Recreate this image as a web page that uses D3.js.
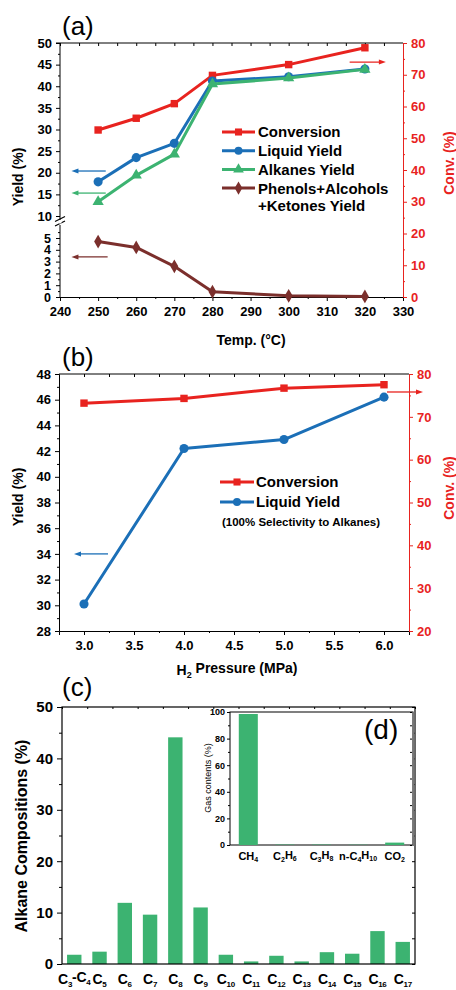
<!DOCTYPE html>
<html>
<head>
<meta charset="utf-8">
<script src="https://cdn.jsdelivr.net/npm/d3@7"></script>
<style>
  body { margin: 0; background: #fff; }
  svg { font-family: "Liberation Sans", Arial, sans-serif; }
  .tk text { font-weight: bold; }
</style>
</head>
<body>
<div id="chart"></div>
<script>
// ---- data ----
var tempX = [250, 260, 270, 280, 300, 320];
var convA = [52.6, 56.3, 60.9, 69.8, 73.2, 78.5];
var liquidA = [17.9, 23.5, 26.8, 41.2, 42.2, 44.0];
var alkanesA = [13.3, 19.4, 24.3, 40.5, 41.9, 43.9];
var phenolsA = [4.7, 4.2, 2.6, 0.45, 0.1, 0.05];

var pressX = [3.0, 4.0, 5.0, 6.0];
var convB = [73.2, 74.3, 76.7, 77.5];
var liquidB = [30.1, 42.2, 42.9, 46.2];

var alkaneCats = ["C_{3}-C_{4}", "C_{5}", "C_{6}", "C_{7}", "C_{8}", "C_{9}", "C_{10}",
                  "C_{11}", "C_{12}", "C_{13}", "C_{14}", "C_{15}", "C_{16}", "C_{17}"];
var alkaneVals = [1.8, 2.4, 11.9, 9.6, 44.1, 11.0, 1.8, 0.5, 1.6, 0.5, 2.3, 2.0, 6.4, 4.3];

var gasCats = ["CH_{4}", "C_{2}H_{6}", "C_{3}H_{8}", "n-C_{4}H_{10}", "CO_{2}"];
var gasVals = [98.5, 0.3, 0.3, 0.2, 1.8];

var legendA = ["Conversion", "Liquid Yield", "Alkanes Yield", "Phenols+Alcohols"];
var legendB = ["Conversion", "Liquid Yield"];

var RED = "#e8231f", BLUE = "#1b6fb7", GREEN = "#3cb371", BROWN = "#7b2f2c";

var svg = d3.select("#chart").append("svg")
    .attr("width", 456)
    .attr("height", 990);

// text with _{sub} parts
function richText(sel, str, subSize) {
    var parts = str.split(/(_\{[^}]*\})/).filter(function(p) { return p.length; });
    var wasSub = false;
    parts.forEach(function(p) {
        if (p[0] == "_") {
            sel.append("tspan").attr("dy", "0.35em").style("font-size", subSize + "px").text(p.slice(2, -1));
            wasSub = true;
        } else {
            var t = sel.append("tspan").text(p);
            if (wasSub) t.attr("dy", "-0.35em");
            wasSub = false;
        }
    });
}

function arrow(g, x1, x2, y, color) {
    var dir = x2 > x1 ? 1 : -1;
    g.append("line").attr("x1", x1).attr("x2", x2 - dir * 4).attr("y1", y).attr("y2", y)
        .attr("stroke", color).attr("stroke-width", 1.3);
    g.append("path")
        .attr("d", "M" + x2 + "," + y + "L" + (x2 - dir * 7) + "," + (y - 2.5) + "L" + (x2 - dir * 7) + "," + (y + 2.5) + "Z")
        .attr("fill", color);
}

function styleAxis(g, color, size) {
    g.attr("class", "tk");
    g.selectAll("path, line").attr("stroke", color);
    g.selectAll("text").attr("fill", color).style("font-size", size + "px");
}

// ======================= panel (a) =======================
var xA = d3.scaleLinear().domain([240, 330]).range([60, 403]);
var yUp = d3.scaleLinear().domain([10, 50]).range([216, 43]);
var yLow = d3.scaleLinear().domain([0, 5]).range([297, 238]);
var yConvA = d3.scaleLinear().domain([0, 80]).range([297, 43]);

var ga = svg.append("g");

// top frame line
ga.append("line").attr("x1", 60).attr("x2", 403).attr("y1", 43).attr("y2", 43).attr("stroke", "#000");
ga.append("g").attr("transform", "translate(0,43)")
    .call(d3.axisBottom(xA).tickValues(d3.range(240, 331, 5)).tickSize(3).tickFormat(""))
    .select(".domain").remove();

// bottom axis
var axA = ga.append("g").attr("transform", "translate(0,297)")
    .call(d3.axisBottom(xA).tickValues(d3.range(240, 331, 10)).tickSize(4).tickPadding(6));
styleAxis(axA, "#000", 13);
ga.append("g").attr("transform", "translate(0,297)")
    .call(d3.axisBottom(xA).tickValues(d3.range(245, 331, 10)).tickSize(2).tickFormat(""))
    .select(".domain").remove();

// left axis, upper segment
var ayU = ga.append("g").attr("transform", "translate(60,0)")
    .call(d3.axisLeft(yUp).tickValues(d3.range(10, 51, 5)).tickSize(4).tickPadding(4));
styleAxis(ayU, "#000", 13);
ayU.select(".domain").attr("d", "M-4,43H0V220");
ga.append("g").attr("transform", "translate(60,0)")
    .call(d3.axisLeft(yUp).tickValues(d3.range(12.5, 50, 5)).tickSize(2).tickFormat(""))
    .select(".domain").remove();

// left axis, lower segment
var ayL = ga.append("g").attr("transform", "translate(60,0)")
    .call(d3.axisLeft(yLow).tickValues(d3.range(0, 6, 1)).tickSize(4).tickPadding(5).tickFormat(d3.format("d")));
styleAxis(ayL, "#000", 12.5);
ayL.select(".domain").attr("d", "M0,225V297");
ga.append("g").attr("transform", "translate(60,0)")
    .call(d3.axisLeft(yLow).tickValues(d3.range(0.5, 6, 1)).tickSize(2).tickFormat(""))
    .select(".domain").remove();

// break marks
[219.5, 224].forEach(function(y) {
    ga.append("line").attr("x1", 55).attr("x2", 65).attr("y1", y + 2).attr("y2", y - 3)
        .attr("stroke", "#000").attr("stroke-width", 1.2);
});
ga.append("rect").attr("x", 59).attr("y", 221).attr("width", 2.5).attr("height", 2.5).attr("fill", "#fff");

// right axis
var ayR = ga.append("g").attr("transform", "translate(403,0)")
    .call(d3.axisRight(yConvA).tickValues(d3.range(0, 81, 10)).tickSize(4).tickPadding(4));
styleAxis(ayR, RED, 13);
ga.append("g").attr("transform", "translate(403,0)")
    .call(d3.axisRight(yConvA).tickValues(d3.range(5, 80, 10)).tickSize(2).tickFormat(""))
    .call(function(g) { g.select(".domain").remove(); g.selectAll("line").attr("stroke", RED); });

// series
function drawSeries(g, xs, ys, xScale, yScale, color, sym, size) {
    var pts = xs.map(function(x, i) { return [xScale(x), yScale(ys[i])]; });
    g.append("path").attr("d", d3.line()(pts)).attr("fill", "none")
        .attr("stroke", color).attr("stroke-width", 3).attr("stroke-linejoin", "round");
    g.selectAll(null).data(pts).enter().append("path")
        .attr("transform", function(d) { return "translate(" + d[0] + "," + d[1] + ")"; })
        .attr("d", d3.symbol().type(sym).size(size))
        .attr("fill", color);
}

drawSeries(ga, tempX, phenolsA, xA, yLow, BROWN, d3.symbolDiamond, 55);
drawSeries(ga, tempX, convA, xA, yConvA, RED, d3.symbolSquare, 55);
drawSeries(ga, tempX, liquidA, xA, yUp, BLUE, d3.symbolCircle, 65);
drawSeries(ga, tempX, alkanesA, xA, yUp, GREEN, d3.symbolTriangle, 55);

// arrows
arrow(ga, xA(316), xA(325.5), yConvA(74), RED);
arrow(ga, xA(252), xA(243), yUp(20.4), BLUE);
arrow(ga, xA(252), xA(243), yUp(15.3), GREEN);
arrow(ga, xA(252.5), xA(243), yLow(3.4), BROWN);

// legend
var legColA = [RED, BLUE, GREEN, BROWN];
var legSymA = [d3.symbolSquare, d3.symbolCircle, d3.symbolTriangle, d3.symbolDiamond];
legendA.forEach(function(name, i) {
    var y = 132 + i * 18.7;
    ga.append("line").attr("x1", 222).attr("x2", 255).attr("y1", y).attr("y2", y)
        .attr("stroke", legColA[i]).attr("stroke-width", 3);
    ga.append("path").attr("transform", "translate(238.5," + y + ")")
        .attr("d", d3.symbol().type(legSymA[i]).size(50)).attr("fill", legColA[i]);
    ga.append("text").attr("x", 258).attr("y", y).attr("dy", "0.36em")
        .style("font-size", "15px").style("font-weight", "bold").text(name);
});
ga.append("text").attr("x", 258).attr("y", 206).attr("dy", "0.36em")
    .style("font-size", "15px").style("font-weight", "bold").text("+Ketones Yield");

ga.append("text").attr("x", 62).attr("y", 35).style("font-size", "26px").text("(a)");
ga.append("text").attr("transform", "translate(23,177) rotate(-90)")
    .style("text-anchor", "middle").style("font-size", "14px").style("font-weight", "bold").text("Yield (%)");
ga.append("text").attr("transform", "translate(454,163) rotate(-90)")
    .style("text-anchor", "middle").style("font-size", "14px").style("font-weight", "bold")
    .attr("fill", RED).text("Conv. (%)");
ga.append("text").attr("x", 251).attr("y", 345)
    .style("text-anchor", "middle").style("font-size", "14px").style("font-weight", "bold").text("Temp. (\u00B0C)");

// ======================= panel (b) =======================
var xB = d3.scaleLinear().domain([2.75, 6.25]).range([59, 409]);
var yB = d3.scaleLinear().domain([28, 48]).range([631, 374]);
var yConvB = d3.scaleLinear().domain([20, 80]).range([631, 374]);

var gb = svg.append("g");
gb.append("line").attr("x1", 59).attr("x2", 409).attr("y1", 374).attr("y2", 374).attr("stroke", "#000");
gb.append("g").attr("transform", "translate(0,374)")
    .call(d3.axisBottom(xB).tickValues(d3.range(3, 6.01, 0.25)).tickSize(3).tickFormat(""))
    .select(".domain").remove();

var axB = gb.append("g").attr("transform", "translate(0,631)")
    .call(d3.axisBottom(xB).tickValues(d3.range(3, 6.01, 0.5)).tickSize(4).tickPadding(6).tickFormat(d3.format(".1f")));
styleAxis(axB, "#000", 13);
gb.append("g").attr("transform", "translate(0,631)")
    .call(d3.axisBottom(xB).tickValues(d3.range(3.25, 6.01, 0.5)).tickSize(2).tickFormat(""))
    .select(".domain").remove();

var ayB = gb.append("g").attr("transform", "translate(59,0)")
    .call(d3.axisLeft(yB).tickValues(d3.range(28, 49, 2)).tickSize(4).tickPadding(4));
styleAxis(ayB, "#000", 13);
gb.append("g").attr("transform", "translate(59,0)")
    .call(d3.axisLeft(yB).tickValues(d3.range(29, 48, 2)).tickSize(2).tickFormat(""))
    .select(".domain").remove();

var ayRB = gb.append("g").attr("transform", "translate(409,0)")
    .call(d3.axisRight(yConvB).tickValues(d3.range(20, 81, 10)).tickSize(4).tickPadding(4));
styleAxis(ayRB, RED, 13);
gb.append("g").attr("transform", "translate(409,0)")
    .call(d3.axisRight(yConvB).tickValues(d3.range(25, 80, 10)).tickSize(2).tickFormat(""))
    .call(function(g) { g.select(".domain").remove(); g.selectAll("line").attr("stroke", RED); });

drawSeries(gb, pressX, convB, xB, yConvB, RED, d3.symbolSquare, 55);
drawSeries(gb, pressX, liquidB, xB, yB, BLUE, d3.symbolCircle, 65);

arrow(gb, xB(6.03), xB(6.39), yConvB(75.8), RED);
arrow(gb, xB(3.24), xB(2.9), yB(34), BLUE);

var legColB = [RED, BLUE];
var legSymB = [d3.symbolSquare, d3.symbolCircle];
legendB.forEach(function(name, i) {
    var y = 482 + i * 20;
    gb.append("line").attr("x1", 220).attr("x2", 254).attr("y1", y).attr("y2", y)
        .attr("stroke", legColB[i]).attr("stroke-width", 3);
    gb.append("path").attr("transform", "translate(237," + y + ")")
        .attr("d", d3.symbol().type(legSymB[i]).size(50)).attr("fill", legColB[i]);
    gb.append("text").attr("x", 256).attr("y", y).attr("dy", "0.36em")
        .style("font-size", "15px").style("font-weight", "bold").text(name);
});
gb.append("text").attr("x", 222).attr("y", 522).attr("dy", "0.36em")
    .style("font-size", "11.5px").style("font-weight", "bold").text("(100% Selectivity to Alkanes)");

gb.append("text").attr("x", 62).attr("y", 366).style("font-size", "26px").text("(b)");
gb.append("text").attr("transform", "translate(23,497) rotate(-90)")
    .style("text-anchor", "middle").style("font-size", "14px").style("font-weight", "bold").text("Yield (%)");
gb.append("text").attr("transform", "translate(454,488) rotate(-90)")
    .style("text-anchor", "middle").style("font-size", "14px").style("font-weight", "bold")
    .attr("fill", RED).text("Conv. (%)");
var xlabB = gb.append("text").attr("x", 237).attr("y", 675)
    .style("text-anchor", "middle").style("font-size", "14px").style("font-weight", "bold");
richText(xlabB, "H_{2} Pressure (MPa)", 9);

// ======================= panel (c) =======================
var xC = d3.scaleBand().domain(alkaneCats).range([62, 415]).paddingInner(0.43).paddingOuter(0.2);
var yC = d3.scaleLinear().domain([0, 50]).range([964, 707]);

var gc = svg.append("g");
gc.selectAll(".bar").data(alkaneVals).enter().append("rect")
    .attr("x", function(d, i) { return xC(alkaneCats[i]); })
    .attr("width", xC.bandwidth())
    .attr("y", function(d) { return yC(d); })
    .attr("height", function(d) { return yC(0) - yC(d); })
    .attr("fill", GREEN);

gc.append("rect").attr("x", 62).attr("y", 707).attr("width", 353).attr("height", 257)
    .attr("fill", "none").attr("stroke", "#000").attr("stroke-width", 1.2);

var ayC = gc.append("g").attr("transform", "translate(62,0)")
    .call(d3.axisLeft(yC).tickValues(d3.range(0, 51, 10)).tickSize(5).tickPadding(4));
styleAxis(ayC, "#000", 15);
ayC.select(".domain").remove();
gc.append("g").attr("transform", "translate(62,0)")
    .call(d3.axisLeft(yC).tickValues(d3.range(5, 50, 10)).tickSize(3).tickFormat(""))
    .select(".domain").remove();
gc.append("g").attr("transform", "translate(415,0)")
    .call(d3.axisLeft(yC).tickValues(d3.range(0, 51, 5)).tickSize(3).tickFormat(""))
    .select(".domain").remove();
gc.append("g").attr("transform", "translate(0,707)")
    .call(d3.axisBottom(d3.scaleLinear().domain([0, 14]).range([62, 415])).tickValues(d3.range(0, 14.1, 1)).tickSize(2).tickFormat(""))
    .select(".domain").remove();

gc.selectAll(".xl").data(alkaneCats).enter().append("text")
    .attr("x", function(d) { return xC(d) + xC.bandwidth() / 2; })
    .attr("y", 984)
    .style("text-anchor", "middle").style("font-size", "14px").style("font-weight", "bold")
    .style("letter-spacing", "-0.3px")
    .each(function(d) { richText(d3.select(this), d, 8); });

gc.append("text").attr("x", 62).attr("y", 696).style("font-size", "26px").text("(c)");
gc.append("text").attr("transform", "translate(27,836) rotate(-90)")
    .style("text-anchor", "middle").style("font-size", "16px").style("font-weight", "bold").text("Alkane Compositions (%)");

// ======================= inset (d) =======================
var xD = d3.scaleBand().domain(gasCats).range([230, 413]).paddingInner(0.48).paddingOuter(0.24);
var yD = d3.scaleLinear().domain([0, 100]).range([845, 712]);

var gd = svg.append("g");
gd.append("rect").attr("x", 230).attr("y", 712).attr("width", 183).attr("height", 133)
    .attr("fill", "#fff").attr("stroke", "#000").attr("stroke-width", 1);
gd.append("line").attr("x1", 413.5).attr("x2", 413.5).attr("y1", 712).attr("y2", 846)
    .attr("stroke", "#777").attr("stroke-width", 2);

gd.selectAll(".bar").data(gasVals).enter().append("rect")
    .attr("x", function(d, i) { return xD(gasCats[i]); })
    .attr("width", xD.bandwidth())
    .attr("y", function(d) { return yD(d); })
    .attr("height", function(d) { return yD(0) - yD(d); })
    .attr("fill", GREEN);

var ayD = gd.append("g").attr("transform", "translate(230,0)")
    .call(d3.axisLeft(yD).tickValues(d3.range(0, 101, 20)).tickSize(3).tickPadding(2));
styleAxis(ayD, "#000", 9);
ayD.select(".domain").remove();
gd.append("g").attr("transform", "translate(230,0)")
    .call(d3.axisLeft(yD).tickValues(d3.range(10, 100, 20)).tickSize(2).tickFormat(""))
    .select(".domain").remove();
gd.append("g").attr("transform", "translate(412,0)")
    .call(d3.axisLeft(yD).tickValues(d3.range(0, 101, 10)).tickSize(2).tickFormat(""))
    .select(".domain").remove();

gd.selectAll(".xl").data(gasCats).enter().append("text")
    .attr("x", function(d) { return xD(d) + xD.bandwidth() / 2; })
    .attr("y", 860)
    .style("text-anchor", "middle").style("font-size", "11px").style("font-weight", "bold")
    .each(function(d) { richText(d3.select(this), d, 7); });

gd.append("text").attr("transform", "translate(211,778) rotate(-90)")
    .style("text-anchor", "middle").style("font-size", "9px").text("Gas contents (%)");
gd.append("text").attr("x", 364).attr("y", 739).style("font-size", "28px").text("(d)");
</script>
</body>
</html>
